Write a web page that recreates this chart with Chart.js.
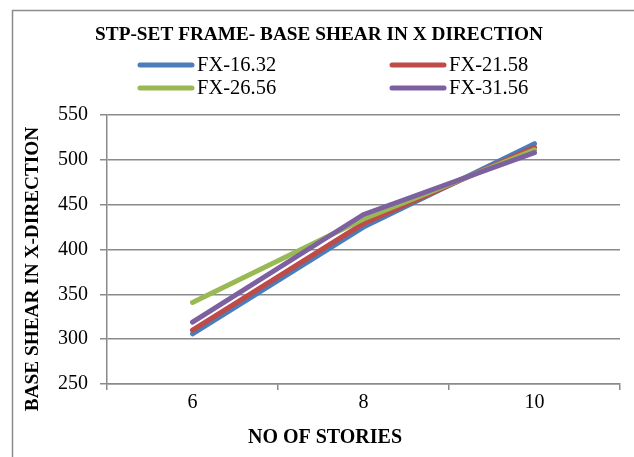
<!DOCTYPE html>
<html>
<head>
<meta charset="utf-8">
<script src="https://cdn.jsdelivr.net/npm/chart.js@4/dist/chart.umd.min.js"></script>
<style>
  html, body { margin: 0; padding: 0; background: #ffffff; }
  canvas { display: block; }
</style>
</head>
<body>
<canvas id="c" width="634" height="457"></canvas>
<script>
// Number of stories on the x axis
const stories = ['6', '8', '10'];

// Base shear in X direction for each frame series
const fx1632 = [306, 425, 518];
const fx2158 = [310, 429, 514];
const fx2656 = [341, 434, 511];
const fx3156 = [319, 439, 508];

const seriesNames = ['FX-16.32', 'FX-21.58', 'FX-26.56', 'FX-31.56'];
const seriesColors = ['#4A7EBB', '#BE4B48', '#98B954', '#7D60A0'];

const yTicks = [250, 300, 350, 400, 450, 500, 550];

const SERIF = '"Liberation Serif", "Times New Roman", serif';
const GRID = '#8a8a8a';

// Frame, two-column legend and axis titles
const decorations = {
  id: 'decorations',
  beforeDraw(chart) {
    const ctx = chart.ctx;
    ctx.save();
    ctx.fillStyle = '#ffffff';
    ctx.fillRect(0, 0, chart.width, chart.height);
    ctx.strokeStyle = '#8c8c8c';
    ctx.lineWidth = 1.5;
    ctx.strokeRect(12.5, 10.5, chart.width + 20, chart.height + 20);
    ctx.restore();
  },
  afterDraw(chart) {
    const ctx = chart.ctx;
    ctx.save();
    // legend: two items per row
    const cols = [140, 392];
    const rows = [65, 88];
    chart.data.datasets.forEach((ds, i) => {
      const x = cols[i % 2];
      const y = rows[Math.floor(i / 2)];
      ctx.strokeStyle = ds.borderColor;
      ctx.lineWidth = 5;
      ctx.lineCap = 'round';
      ctx.beginPath();
      ctx.moveTo(x, y);
      ctx.lineTo(x + 52, y);
      ctx.stroke();
      ctx.fillStyle = '#000000';
      ctx.font = '20.5px ' + SERIF;
      ctx.textAlign = 'left';
      ctx.textBaseline = 'middle';
      ctx.fillText(ds.label, x + 57, y + 1);
    });
    // axis titles
    ctx.fillStyle = '#000000';
    ctx.font = 'bold 20px ' + SERIF;
    ctx.textAlign = 'center';
    ctx.textBaseline = 'middle';
    ctx.fillText('NO OF STORIES', 325, 438);
    ctx.font = 'bold 19.3px ' + SERIF;
    ctx.translate(33, 269);
    ctx.rotate(-Math.PI / 2);
    ctx.fillText('BASE SHEAR IN X-DIRECTION', 0, 0);
    ctx.restore();
  }
};

const seriesData = [fx1632, fx2158, fx2656, fx3156];

new Chart(document.getElementById('c'), {
  type: 'line',
  data: {
    labels: stories,
    datasets: seriesData.map((vals, i) => ({
      label: seriesNames[i],
      data: vals,
      borderColor: seriesColors[i],
      backgroundColor: seriesColors[i],
      borderWidth: 5,
      borderCapStyle: 'round',
      borderJoinStyle: 'round',
      pointRadius: 0,
      pointHoverRadius: 0,
      tension: 0,
      fill: false,
      order: 4 - i
    }))
  },
  options: {
    responsive: false,
    animation: false,
    events: [],
    layout: { padding: { left: 18, right: 14, top: 0, bottom: 0 } },
    plugins: {
      legend: { display: false },
      tooltip: { enabled: false },
      title: {
        display: true,
        text: 'STP-SET FRAME- BASE SHEAR IN X DIRECTION',
        color: '#000000',
        font: { family: SERIF, size: 19.3, weight: 'bold', lineHeight: 1.2 },
        padding: { top: 23, bottom: 68.8 }
      }
    },
    scales: {
      x: {
        type: 'category',
        offset: true,
        grid: {
          display: true,
          offset: true,
          drawOnChartArea: false,
          drawTicks: true,
          tickLength: 6,
          color: GRID,
          lineWidth: 1.5
        },
        border: { display: true, color: GRID, width: 1.5 },
        ticks: {
          color: '#000000',
          font: { family: SERIF, size: 20, lineHeight: 1.2 },
          padding: 1,
          maxRotation: 0,
          autoSkip: false
        },
        afterFit(scale) { scale.height = 73; }
      },
      y: {
        min: yTicks[0],
        max: yTicks[yTicks.length - 1],
        afterBuildTicks(scale) { scale.ticks = yTicks.map(v => ({ value: v })); },
        grid: {
          display: true,
          drawOnChartArea: true,
          drawTicks: true,
          tickLength: 7,
          color: GRID,
          lineWidth: 1.5
        },
        border: { display: true, color: GRID, width: 1.5 },
        ticks: {
          color: '#000000',
          font: { family: SERIF, size: 20 },
          padding: 12
        },
        afterFit(scale) { scale.width = 89; }
      }
    }
  },
  plugins: [decorations]
});
</script>
</body>
</html>
